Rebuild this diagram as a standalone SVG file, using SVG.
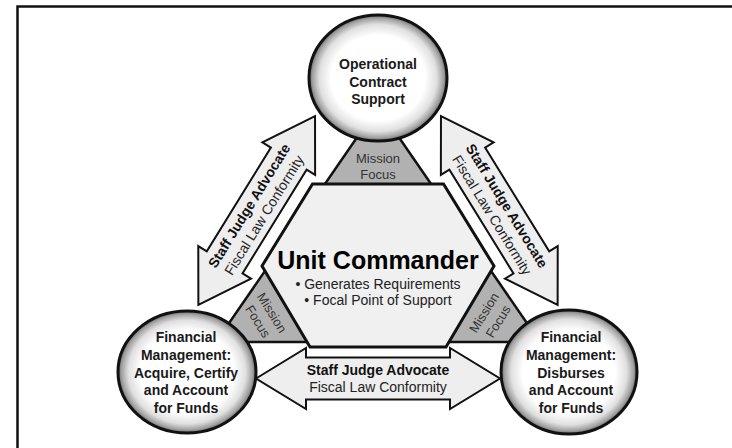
<svg xmlns="http://www.w3.org/2000/svg" width="732" height="448" viewBox="0 0 732 448">
<defs>
<radialGradient id="sph" cx="0.5" cy="0.5" r="0.5">
<stop offset="0" stop-color="#ffffff"/>
<stop offset="0.68" stop-color="#ffffff"/>
<stop offset="0.85" stop-color="#e0e0e0"/>
<stop offset="0.95" stop-color="#a0a0a0"/>
<stop offset="1" stop-color="#666666"/>
</radialGradient>
<polygon id="darr" points="111,0 61,-31 61,-21 -61,-21 -61,-31 -111,0 -61,31 -61,21 61,21 61,31"/>
</defs>
<style>
.circ{fill:url(#sph);stroke:#111;stroke-width:3}
.arr{fill:#eeeeee;stroke:#111;stroke-width:2;stroke-linejoin:miter}
.tri{fill:#b1b1b1;stroke:#111;stroke-width:2.5;stroke-linejoin:miter}
.hex{fill:#f0f0f0;stroke:#111;stroke-width:3;stroke-linejoin:miter}
text{font-family:"Liberation Sans",Arial,sans-serif;text-anchor:middle}
.ct{font-size:14px;font-weight:bold;fill:#1a1a1a}
.ab{font-size:14px;font-weight:bold;fill:#111}
.ar{font-size:14px;fill:#222}
.mf{font-size:13px;fill:#333}
.uc{font-size:25px;font-weight:bold;fill:#000}
.bl{font-size:14px;fill:#222}
</style>
<rect width="732" height="448" fill="#ffffff"/>
<path d="M17.5,448 V6.5 H732" fill="none" stroke="#111" stroke-width="2.5"/>

<g id="mission-focus">
<polygon class="tri" points="378,107 540,342 216,342"/>
<text class="mf" x="378" y="162.5">Mission</text>
<text class="mf" x="378" y="179">Focus</text>
<g transform="translate(265,317) rotate(58.3)">
<text class="mf" x="0" y="-3.7">Mission</text>
<text class="mf" x="0" y="12.9">Focus</text>
</g>
<g transform="translate(491,317) rotate(-58.3)">
<text class="mf" x="0" y="-3.7">Mission</text>
<text class="mf" x="0" y="12.9">Focus</text>
</g>
</g>

<g id="unit-commander">
<polygon class="hex" points="312.5,184 443.5,184 494,266 446,347 310,347 262,266"/>
<text class="uc" x="378" y="269">Unit Commander</text>
<text class="bl" x="378" y="289">• Generates Requirements</text>
<text class="bl" x="378" y="305">• Focal Point of Support</text>
</g>

<g id="connectors">
<g id="arrow-left" transform="translate(256.7,210.5) rotate(-58.3)">
<use href="#darr" class="arr"/>
<text class="ab" x="0" y="-4">Staff Judge Advocate</text>
<text class="ar" x="0" y="13.5">Fiscal Law Conformity</text>
</g>
<g id="arrow-right" transform="translate(499.3,210.5) rotate(58.3)">
<use href="#darr" class="arr"/>
<text class="ab" x="0" y="-4">Staff Judge Advocate</text>
<text class="ar" x="0" y="13.5">Fiscal Law Conformity</text>
</g>
<g id="arrow-bottom">
<polygon class="arr" points="256,378.5 306,348 306,357.5 450,357.5 450,348 500,378.5 450,409 450,399.5 306,399.5 306,409"/>
<text class="ab" x="378" y="374.5">Staff Judge Advocate</text>
<text class="ar" x="378" y="392">Fiscal Law Conformity</text>
</g>
</g>

<g id="node-ocs">
<ellipse class="circ" cx="378" cy="78" rx="69" ry="63"/>
<text class="ct" x="378" y="69">Operational</text>
<text class="ct" x="378" y="86.5">Contract</text>
<text class="ct" x="378" y="104">Support</text>
</g>

<g id="node-fm-left">
<ellipse class="circ" cx="187" cy="372" rx="69" ry="61"/>
<text class="ct" x="186" y="342">Financial</text>
<text class="ct" x="186" y="359.8">Management:</text>
<text class="ct" x="186" y="377.6">Acquire, Certify</text>
<text class="ct" x="186" y="395.4">and Account</text>
<text class="ct" x="186" y="413.2">for Funds</text>
</g>

<g id="node-fm-right">
<ellipse class="circ" cx="569" cy="372" rx="68" ry="62"/>
<text class="ct" x="571" y="342">Financial</text>
<text class="ct" x="571" y="359.8">Management:</text>
<text class="ct" x="571" y="377.6">Disburses</text>
<text class="ct" x="571" y="395.4">and Account</text>
<text class="ct" x="571" y="413.2">for Funds</text>
</g>
</svg>
